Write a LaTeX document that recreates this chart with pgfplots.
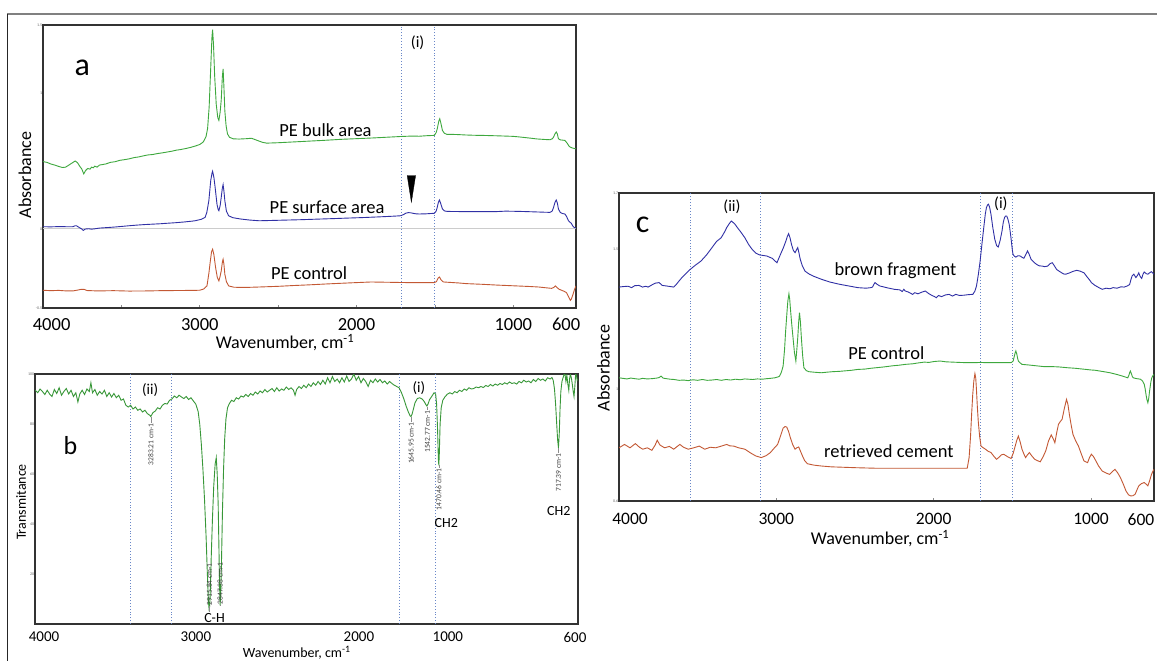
\documentclass[border=0pt]{standalone}
\usepackage{fontspec}
\setmainfont{Carlito}
\usepackage{pgfplots}
\pgfplotsset{compat=1.18}
\definecolor{cgreen}{RGB}{62,168,62}
\definecolor{cblue}{RGB}{48,48,165}
\definecolor{corange}{RGB}{195,88,52}
\definecolor{cdot}{RGB}{105,135,200}
\newcommand\fs[1]{\fontsize{#1bp}{#1bp}\selectfont}
\pgfplotsset{panel/.style={scale only axis, x dir=reverse,
  axis line style={line width=1.5bp, black!80},
  xtick pos=bottom, ytick pos=left, major tick length=0pt, minor tick length=3bp,
  tick style={black!45, line width=0.6bp},
  /pgf/number format/assume math mode=true,
  clip mode=individual,
  yticklabel style={font=\fs{4}, text=black!60, inner sep=0.6bp},
  every axis plot/.append style={line width=0.9bp},
}}
\pgfplotsset{vdot/.style={cdot, dotted, line width=0.7bp}}
\begin{document}
\begin{tikzpicture}
\useasboundingbox (0,0) rectangle (1157bp,-661bp);
\fill[white] (0,0) rectangle (1157bp,-661bp);
\draw[black!50, line width=2bp] (7bp,-14bp) -- (1157bp,-14bp);
\draw[black!85, line width=1bp] (7bp,-14bp) -- (7bp,-661bp);

% ---------------- Panel a ----------------
\begin{axis}[panel, at={(43bp,-25bp)}, anchor=north west, width=533bp, height=283bp,
  xmin=600, xmax=4000, ymin=-0.585, ymax=1.504,
  xtick={3945,3000,2000,1000,663}, xticklabels={4000,3000,2000,1000,600},
  minor xtick={3500,3000,2500,2000,1500,1000},
  xticklabel style={font=\fs{18.5}, inner sep=0pt, yshift=-10bp},
  ytick={1.5,1,0,-0.585}, yticklabels={1.5,1,0,-0.5},
  xlabel={Wavenumber, cm\textsuperscript{-1}},
  xlabel style={font=\fs{18}, at={(axis description cs:0.454,0)}, anchor=north, inner sep=0pt, yshift=-26bp},
  ylabel={Absorbance},
  ylabel style={font=\fs{18}, at={(axis description cs:0,0.47)}, anchor=center, yshift=18bp},
]
\addplot[black!20, line width=0.6bp] coordinates {(600,0) (4000,0)};
\addplot[vdot] coordinates {(1713,-0.585) (1713,1.504)};
\addplot[vdot] coordinates {(1503,-0.585) (1503,1.504)};
\addplot[cgreen] coordinates {
(4000,0.496) (3975,0.49) (3950,0.478) (3925,0.47) (3900,0.46) (3875,0.452) (3855,0.455) (3835,0.47) (3815,0.485) (3795,0.500) (3780,0.488) (3765,0.46) (3752,0.44) (3740,0.405) (3728,0.43) (3715,0.445) (3700,0.44) (3690,0.455) (3680,0.45) (3670,0.462) (3655,0.455) (3640,0.47) (3620,0.474) (3600,0.478) (3570,0.49) (3540,0.495) (3510,0.505) (3480,0.51) (3450,0.516) (3420,0.525) (3390,0.53) (3360,0.538) (3330,0.545) (3300,0.548) (3270,0.555) (3240,0.56) (3215,0.565) (3180,0.572) (3150,0.58) (3120,0.585) (3090,0.592) (3060,0.6) (3030,0.61) (3000,0.622) (2978,0.64) (2960,0.68) (2950,0.74) (2940,0.9) (2930,1.19) (2922,1.42) (2918,1.47) (2912,1.35) (2905,1.13) (2895,0.92) (2885,0.82) (2878,0.80) (2870,0.86) (2863,0.95) (2856,1.12) (2851,1.18) (2846,1.05) (2840,0.87) (2832,0.76) (2823,0.70) (2810,0.675) (2787,0.664) (2750,0.662) (2700,0.665) (2670,0.668) (2640,0.655) (2600,0.638) (2573,0.632) (2500,0.635) (2400,0.641) (2300,0.647) (2200,0.653) (2100,0.660) (2000,0.665) (1900,0.670) (1800,0.676) (1718,0.681) (1650,0.684) (1600,0.683) (1550,0.687) (1504,0.689) (1492,0.71) (1485,0.738) (1475,0.795) (1469,0.812) (1462,0.78) (1452,0.726) (1440,0.705) (1422,0.696) (1400,0.697) (1350,0.695) (1300,0.692) (1250,0.690) (1194,0.689) (1100,0.686) (1000,0.682) (956,0.677) (900,0.670) (850,0.663) (800,0.659) (766,0.657) (750,0.665) (743,0.677) (735,0.698) (726,0.714) (719,0.70) (712,0.664) (700,0.656) (685,0.654) (671,0.652) (655,0.63) (645,0.61) (636,0.602) (620,0.595) (600,0.590)};
\addplot[cblue] coordinates {
(4000,0.015) (3950,0.014) (3900,0.016) (3850,0.015) (3810,0.015) (3795,0.022) (3786,0.022) (3770,0.01) (3755,0.0) (3743,-0.012) (3730,-0.002) (3710,0.0) (3690,-0.003) (3667,0.0) (3640,0.005) (3600,0.008) (3550,0.012) (3500,0.017) (3453,0.022) (3400,0.027) (3350,0.031) (3300,0.034) (3250,0.037) (3215,0.04) (3150,0.045) (3100,0.05) (3050,0.056) (3025,0.06) (2990,0.07) (2966,0.084) (2955,0.12) (2942,0.207) (2930,0.356) (2922,0.41) (2918,0.425) (2910,0.38) (2902,0.306) (2890,0.18) (2882,0.14) (2878,0.133) (2870,0.17) (2863,0.232) (2856,0.30) (2851,0.326) (2846,0.28) (2840,0.207) (2830,0.13) (2816,0.096) (2790,0.082) (2740,0.072) (2680,0.064) (2621,0.059) (2550,0.061) (2450,0.064) (2350,0.067) (2250,0.071) (2146,0.075) (2050,0.079) (1950,0.083) (1850,0.088) (1760,0.093) (1718,0.096) (1700,0.105) (1685,0.115) (1670,0.119) (1655,0.118) (1640,0.114) (1620,0.11) (1600,0.109) (1560,0.11) (1520,0.113) (1504,0.114) (1492,0.13) (1485,0.158) (1478,0.195) (1471,0.212) (1464,0.19) (1452,0.146) (1440,0.132) (1422,0.128) (1350,0.127) (1300,0.126) (1250,0.126) (1194,0.126) (1100,0.127) (1050,0.13) (1000,0.129) (956,0.128) (900,0.126) (850,0.124) (800,0.122) (766,0.121) (752,0.13) (743,0.158) (734,0.195) (726,0.212) (719,0.19) (712,0.146) (700,0.12) (685,0.112) (671,0.109) (660,0.09) (648,0.059) (640,0.05) (630,0.04) (620,0.02) (612,0.01) (600,0.005)};
\addplot[corange] coordinates {
(4000,-0.454) (3950,-0.457) (3900,-0.455) (3850,-0.459) (3810,-0.459) (3775,-0.452) (3760,-0.448) (3738,-0.447) (3720,-0.456) (3650,-0.459) (3550,-0.457) (3450,-0.46) (3334,-0.459) (3250,-0.457) (3150,-0.456) (3050,-0.455) (3001,-0.454) (2975,-0.445) (2954,-0.422) (2942,-0.33) (2935,-0.262) (2925,-0.17) (2918,-0.151) (2910,-0.19) (2899,-0.286) (2888,-0.36) (2878,-0.385) (2870,-0.35) (2863,-0.311) (2855,-0.24) (2851,-0.225) (2846,-0.26) (2840,-0.336) (2830,-0.39) (2816,-0.422) (2780,-0.432) (2700,-0.433) (2621,-0.430) (2500,-0.425) (2400,-0.419) (2300,-0.414) (2200,-0.408) (2146,-0.405) (2050,-0.400) (1950,-0.395) (1908,-0.393) (1800,-0.395) (1700,-0.397) (1600,-0.398) (1504,-0.398) (1490,-0.39) (1480,-0.365) (1471,-0.356) (1462,-0.375) (1450,-0.39) (1444,-0.393) (1350,-0.400) (1300,-0.405) (1200,-0.410) (1100,-0.416) (1000,-0.421) (900,-0.426) (838,-0.430) (790,-0.436) (755,-0.44) (740,-0.432) (731,-0.422) (720,-0.435) (707,-0.447) (690,-0.455) (675,-0.462) (660,-0.472) (648,-0.50) (640,-0.52) (636,-0.528) (630,-0.52) (619,-0.484) (610,-0.45) (600,-0.422)};
\addplot[fill=black, draw=black, line width=0.3bp] coordinates {(1677,0.393) (1623,0.393) (1650,0.195)} -- cycle;
\node[font=\fs{32}] at (axis cs:3750,1.188) {a};
\node[font=\fs{16}] at (axis cs:1610,1.375) {(i)};
\node[font=\fs{18.5}, anchor=base] at (axis cs:2198,0.681) {PE bulk area};
\node[font=\fs{18.5}, anchor=base] at (axis cs:2188,0.109) {PE surface area};
\node[font=\fs{18.5}, anchor=base] at (axis cs:2302,-0.373) {PE control};
\end{axis}

% ---------------- Panel b ----------------
\begin{axis}[panel, at={(35bp,-374bp)}, anchor=north west, width=543bp, height=250bp,
  xmin=594, xmax=4012, ymin=0, ymax=100,
  xtick={3955,2999,1973,1413,613}, xticklabels={4000,3000,2000,1000,600},
  xticklabel style={font=\fs{15}, inner sep=0pt, yshift=-8bp},
  ytick={100,80,60,40,20},
  xlabel={Wavenumber, cm\textsuperscript{-1}},
  xlabel style={font=\fs{14}, at={(axis description cs:0.482,0)}, anchor=north, inner sep=0pt, yshift=-22bp},
  ylabel={Transmitance},
  ylabel style={font=\fs{14}, at={(axis description cs:0,0.488)}, anchor=center, yshift=14bp},
]
\addplot[vdot] coordinates {(3411,0) (3411,100)};
\addplot[vdot] coordinates {(3155,0) (3155,100)};
\addplot[vdot] coordinates {(1716,0) (1716,100)};
\addplot[vdot] coordinates {(1490,0) (1490,100)};
\addplot[cgreen!90!black] coordinates {
(4010,93.5) (3995,92.5) (3980,94.0) (3965,93.0) (3950,91.8) (3935,93.5) (3920,92.0) (3905,91.0) (3890,93.8) (3875,92.2) (3860,94.5) (3845,91.5) (3830,93.0) (3815,94.2) (3800,92.0) (3785,93.5) (3770,91.0) (3755,92.5) (3742,88.8) (3730,92.0) (3715,93.5) (3700,91.8) (3685,94.0) (3670,93.0) (3660,96.5) (3650,92.5) (3635,93.8) (3620,91.5) (3605,93.0) (3590,92.0) (3575,93.5) (3560,91.0) (3545,92.5) (3530,90.8) (3515,92.2) (3500,90.5) (3485,91.5) (3470,89.5) (3455,90.0) (3440,87.5) (3425,86.8) (3410,87.5) (3395,86.0) (3380,86.8) (3365,85.5) (3350,86.0) (3335,84.8) (3320,85.5) (3305,84.2) (3290,83.5) (3283,83.0) (3270,84.5) (3255,85.2) (3240,86.5) (3225,86.0) (3210,87.5) (3195,88.2) (3180,88.0) (3165,89.5) (3150,90.0) (3135,91.2) (3120,90.5) (3105,91.5) (3090,90.8) (3075,90.2) (3060,91.0) (3045,89.8) (3030,90.5) (3015,89.2) (3000,88.0) (2985,85.0) (2975,80.0) (2965,72.0) (2955,62.0) (2945,50.0) (2935,35.0) (2927,20.0) (2920,9.0) (2915,5.0) (2910,10.0) (2903,26.0) (2895,42.0) (2887,55.0) (2878,64.0) (2871,66.5) (2865,60.0) (2859,48.0) (2854,30.0) (2850,15.0) (2847,7.5) (2843,12.0) (2838,25.0) (2832,45.0) (2825,62.0) (2818,74.0) (2810,82.0) (2800,86.5) (2790,88.0) (2775,89.5) (2760,89.0) (2745,90.5) (2730,90.0) (2715,91.2) (2700,90.8) (2685,91.8) (2670,91.0) (2655,92.2) (2640,91.5) (2625,92.8) (2610,92.0) (2595,93.2) (2580,92.5) (2565,93.8) (2550,92.8) (2535,93.5) (2520,94.2) (2505,93.0) (2490,94.5) (2475,93.2) (2460,94.0) (2445,93.5) (2430,94.8) (2415,93.8) (2400,94.5) (2385,93.5) (2375,91.5) (2365,93.8) (2350,95.0) (2335,94.2) (2320,95.5) (2305,94.5) (2290,96.0) (2275,95.0) (2260,96.5) (2245,95.5) (2230,97.0) (2215,95.8) (2200,97.5) (2185,96.0) (2170,98.5) (2155,96.5) (2140,99.0) (2125,97.0) (2110,98.0) (2095,96.5) (2080,98.5) (2065,96.8) (2050,99.2) (2035,97.0) (2020,98.0) (2005,100.0) (1990,97.5) (1975,99.0) (1960,96.5) (1945,98.2) (1930,97.0) (1915,95.0) (1900,97.5) (1885,96.5) (1870,98.0) (1855,96.8) (1840,97.8) (1825,96.5) (1810,97.2) (1795,96.0) (1780,97.0) (1765,96.2) (1750,95.5) (1735,95.0) (1720,94.5) (1705,92.5) (1690,90.0) (1675,87.0) (1660,84.5) (1650,83.2) (1645,83.0) (1638,84.0) (1630,86.0) (1620,88.5) (1605,90.2) (1590,90.5) (1575,90.0) (1562,89.0) (1552,87.8) (1545,87.2) (1538,88.0) (1528,89.8) (1515,91.0) (1500,92.5) (1490,92.0) (1484,88.0) (1478,78.0) (1473,66.0) (1470,63.5) (1467,68.0) (1462,80.0) (1455,86.5) (1445,89.5) (1430,91.0) (1415,92.0) (1400,92.5) (1385,92.0) (1370,93.0) (1355,92.5) (1340,93.5) (1325,93.0) (1310,94.0) (1295,93.5) (1280,94.5) (1265,94.0) (1250,94.2) (1235,94.8) (1220,94.5) (1205,95.0) (1190,94.6) (1175,95.4) (1160,95.0) (1145,95.8) (1130,95.2) (1115,96.0) (1100,95.5) (1085,96.2) (1070,95.8) (1055,96.5) (1040,96.0) (1025,96.8) (1010,96.2) (995,96.5) (980,96.0) (965,97.0) (950,96.5) (935,97.5) (920,96.8) (905,97.2) (890,96.5) (875,97.8) (860,97.0) (845,98.2) (830,97.5) (815,98.0) (800,97.2) (785,98.5) (770,98.0) (758,98.6) (750,97.5) (742,94.0) (735,88.0) (728,80.0) (722,73.5) (717,70.5) (712,76.0) (707,86.0) (702,93.0) (695,97.0) (688,98.5) (682,99.8) (676,100.0) (670,97.0) (664,99.5) (658,96.0) (652,93.5) (647,98.0) (642,100.0) (636,98.5) (630,96.0) (624,93.0) (619,91.0) (614,95.0) (609,99.8) (604,99.5) (599,97.5) (595,98.0)};
\draw[black!45, line width=0.5bp] (axis cs:3283,83) -- (axis cs:3283,80.5);
\draw[black!45, line width=0.5bp] (axis cs:2915,4.8) -- (axis cs:2915,7.3);
\draw[black!45, line width=0.5bp] (axis cs:2847,7.3) -- (axis cs:2847,7.6);
\draw[black!45, line width=0.5bp] (axis cs:1645,83) -- (axis cs:1645,81);
\draw[black!45, line width=0.5bp] (axis cs:1542,87) -- (axis cs:1542,85.5);
\draw[black!45, line width=0.5bp] (axis cs:1470,63.5) -- (axis cs:1470,62.5);
\draw[black!45, line width=0.5bp] (axis cs:717,70.5) -- (axis cs:717,68.5);
\node[font=\fs{7.5}, text=black!75, rotate=90, anchor=east, inner sep=0.5bp] at (axis cs:3283,80.5) {3283.21 cm-1};
\node[font=\fs{7.5}, text=black!75, rotate=90, anchor=west, inner sep=0.5bp] at (axis cs:2915,7.3) {2915.84 cm-1};
\node[font=\fs{7.5}, text=black!75, rotate=90, anchor=west, inner sep=0.5bp] at (axis cs:2847,7.6) {2847.38 cm-1};
\node[font=\fs{7.5}, text=black!75, rotate=90, anchor=east, inner sep=0.5bp] at (axis cs:1645,81) {1645.95 cm-1};
\node[font=\fs{7.5}, text=black!75, rotate=90, anchor=east, inner sep=0.5bp] at (axis cs:1542,85.5) {1542.77 cm-1};
\node[font=\fs{7.5}, text=black!75, rotate=90, anchor=east, inner sep=0.5bp] at (axis cs:1470,62.5) {1470.46 cm-1};
\node[font=\fs{7.5}, text=black!75, rotate=90, anchor=east, inner sep=0.5bp] at (axis cs:717,68.5) {717.39 cm-1};
\node[font=\fs{26}] at (axis cs:3788,71.5) {b};
\node[font=\fs{15}] at (axis cs:3287,93.7) {(ii)};
\node[font=\fs{15}] at (axis cs:1595,94.4) {(i)};
\node[font=\fs{14}] at (axis cs:2882,2.3) {C-H};
\node[font=\fs{14}] at (axis cs:1423,40.3) {CH2};
\node[font=\fs{14}] at (axis cs:715,45.2) {CH2};
\end{axis}

% ---------------- Panel c ----------------
\begin{axis}[panel, at={(619bp,-193bp)}, anchor=north west, width=535bp, height=308bp,
  xmin=600, xmax=4000, ymin=0.6, ymax=1.7,
  xtick={3930,3000,2000,1000,683}, xticklabels={4000,3000,2000,1000,600},
  minor xtick={3000,2000,1000},
  xticklabel style={font=\fs{17.5}, inner sep=0pt, yshift=-12bp},
  ytick={1.7,1.5,1,0.6},
  xlabel={Wavenumber, cm\textsuperscript{-1}},
  xlabel style={font=\fs{18}, at={(axis description cs:0.488,0)}, anchor=north, inner sep=0pt, yshift=-29bp},
  ylabel={Absorbance},
  ylabel style={font=\fs{18}, at={(axis description cs:0,0.432)}, anchor=center, yshift=15.5bp},
]
\addplot[vdot] coordinates {(3548,0.6) (3548,1.7)};
\addplot[vdot] coordinates {(3103,0.6) (3103,1.7)};
\addplot[vdot] coordinates {(1701,0.6) (1701,1.7)};
\addplot[vdot] coordinates {(1502,0.6) (1502,1.7)};
\addplot[cblue] coordinates {
(4000,1.364) (3970,1.366) (3942,1.367) (3920,1.362) (3900,1.369) (3873,1.370) (3850,1.364) (3830,1.367) (3815,1.364) (3790,1.372) (3770,1.378) (3745,1.380) (3725,1.370) (3699,1.368) (3675,1.366) (3652,1.364) (3635,1.374) (3618,1.386) (3600,1.398) (3575,1.412) (3548,1.427) (3515,1.442) (3479,1.457) (3445,1.478) (3409,1.505) (3380,1.527) (3351,1.540) (3330,1.560) (3316,1.576) (3300,1.590) (3286,1.600) (3265,1.590) (3247,1.576) (3225,1.560) (3200,1.540) (3175,1.515) (3154,1.499) (3130,1.485) (3108,1.479) (3085,1.477) (3061,1.475) (3040,1.470) (3027,1.467) (3010,1.458) (2996,1.451) (2982,1.470) (2969,1.487) (2955,1.505) (2939,1.529) (2930,1.545) (2922,1.555) (2913,1.540) (2904,1.517) (2892,1.495) (2881,1.487) (2872,1.497) (2864,1.505) (2856,1.485) (2848,1.463) (2835,1.440) (2818,1.421) (2790,1.410) (2760,1.402) (2714,1.392) (2660,1.382) (2598,1.374) (2540,1.368) (2482,1.362) (2430,1.360) (2400,1.362) (2389,1.364) (2380,1.374) (2373,1.380) (2360,1.374) (2343,1.368) (2300,1.362) (2250,1.356) (2215,1.354) (2200,1.348) (2190,1.356) (2181,1.350) (2160,1.346) (2134,1.338) (2120,1.344) (2100,1.340) (2075,1.346) (2053,1.350) (2030,1.340) (2010,1.334) (1995,1.330) (1983,1.326) (1970,1.334) (1950,1.330) (1925,1.336) (1902,1.338) (1880,1.332) (1860,1.338) (1835,1.334) (1809,1.335) (1780,1.337) (1751,1.338) (1738,1.350) (1728,1.368) (1716,1.410) (1705,1.457) (1693,1.520) (1682,1.576) (1672,1.625) (1665,1.648) (1658,1.657) (1652,1.660) (1645,1.650) (1636,1.624) (1624,1.575) (1612,1.535) (1600,1.512) (1590,1.507) (1578,1.530) (1566,1.564) (1558,1.595) (1550,1.612) (1543,1.618) (1536,1.618) (1528,1.606) (1520,1.588) (1510,1.545) (1500,1.495) (1496,1.481) (1487,1.474) (1478,1.471) (1465,1.476) (1450,1.475) (1438,1.470) (1427,1.467) (1415,1.480) (1404,1.493) (1394,1.482) (1381,1.463) (1362,1.452) (1346,1.445) (1330,1.440) (1311,1.439) (1295,1.437) (1276,1.439) (1260,1.448) (1246,1.451) (1233,1.440) (1219,1.427) (1195,1.418) (1175,1.411) (1161,1.410) (1140,1.414) (1115,1.420) (1091,1.424) (1070,1.421) (1045,1.415) (1025,1.400) (1010,1.390) (998,1.380) (975,1.370) (950,1.362) (929,1.356) (905,1.360) (880,1.358) (860,1.362) (835,1.360) (810,1.365) (790,1.364) (770,1.368) (755,1.373) (747,1.390) (739,1.404) (728,1.410) (715,1.398) (706,1.405) (697,1.415) (688,1.402) (678,1.395) (670,1.410) (662,1.418) (650,1.412) (639,1.410) (628,1.415) (616,1.419) (608,1.414) (600,1.410)};
\addplot[cgreen] coordinates {
(4000,1.040) (3975,1.038) (3950,1.036) (3925,1.039) (3900,1.037) (3873,1.035) (3850,1.038) (3820,1.036) (3790,1.037) (3760,1.039) (3745,1.041) (3733,1.046) (3720,1.039) (3700,1.037) (3675,1.035) (3650,1.034) (3618,1.031) (3590,1.032) (3560,1.030) (3530,1.033) (3500,1.031) (3470,1.034) (3440,1.031) (3409,1.032) (3380,1.034) (3350,1.031) (3320,1.034) (3290,1.032) (3260,1.035) (3230,1.033) (3200,1.036) (3177,1.035) (3150,1.034) (3120,1.036) (3090,1.035) (3060,1.037) (3038,1.038) (3010,1.040) (2990,1.043) (2980,1.046) (2968,1.060) (2957,1.082) (2948,1.14) (2941,1.207) (2933,1.27) (2927,1.314) (2920,1.340) (2915,1.32) (2911,1.290) (2902,1.23) (2894,1.183) (2885,1.13) (2876,1.100) (2870,1.14) (2864,1.183) (2858,1.24) (2853,1.273) (2847,1.24) (2841,1.183) (2833,1.12) (2825,1.076) (2810,1.066) (2795,1.062) (2760,1.060) (2714,1.058) (2680,1.060) (2640,1.062) (2600,1.063) (2560,1.065) (2520,1.067) (2482,1.070) (2440,1.071) (2400,1.074) (2366,1.076) (2330,1.078) (2300,1.080) (2260,1.083) (2220,1.085) (2180,1.088) (2134,1.090) (2100,1.093) (2060,1.096) (2030,1.095) (2000,1.098) (1960,1.100) (1920,1.097) (1880,1.096) (1840,1.095) (1787,1.094) (1740,1.094) (1700,1.095) (1671,1.094) (1620,1.094) (1560,1.094) (1508,1.094) (1495,1.100) (1490,1.112) (1483,1.128) (1478,1.136) (1472,1.125) (1466,1.108) (1462,1.100) (1450,1.093) (1439,1.088) (1400,1.086) (1350,1.083) (1300,1.080) (1250,1.080) (1207,1.079) (1150,1.076) (1100,1.074) (1050,1.071) (1000,1.068) (975,1.067) (920,1.062) (880,1.058) (836,1.052) (800,1.046) (767,1.040) (760,1.048) (755,1.058) (750,1.064) (744,1.055) (738,1.045) (732,1.040) (710,1.037) (686,1.035) (672,1.028) (662,1.017) (656,1.000) (651,0.981) (645,0.962) (639,0.951) (634,0.965) (628,0.993) (620,1.025) (614,1.040) (609,1.046) (600,1.052)};
\addplot[corange] coordinates {
(4000,0.790) (3965,0.802) (3930,0.790) (3896,0.805) (3870,0.792) (3849,0.785) (3820,0.790) (3791,0.781) (3770,0.800) (3757,0.817) (3740,0.800) (3710,0.790) (3680,0.795) (3652,0.785) (3630,0.795) (3613,0.802) (3590,0.792) (3560,0.785) (3525,0.790) (3490,0.796) (3455,0.785) (3420,0.792) (3386,0.790) (3350,0.796) (3316,0.802) (3295,0.797) (3270,0.796) (3240,0.790) (3200,0.785) (3165,0.772) (3131,0.761) (3096,0.755) (3065,0.762) (3038,0.773) (3015,0.788) (2992,0.802) (2975,0.830) (2957,0.860) (2945,0.866) (2934,0.864) (2922,0.848) (2911,0.826) (2895,0.800) (2881,0.785) (2870,0.790) (2858,0.793) (2846,0.777) (2834,0.761) (2820,0.744) (2802,0.733) (2760,0.728) (2714,0.725) (2650,0.722) (2598,0.721) (2500,0.719) (2366,0.717) (2200,0.717) (2018,0.717) (1900,0.717) (1787,0.717) (1775,0.755) (1766,0.830) (1759,0.910) (1752,0.980) (1745,1.029) (1738,1.055) (1733,1.040) (1729,1.005) (1723,0.940) (1717,0.886) (1708,0.830) (1699,0.796) (1685,0.790) (1671,0.785) (1655,0.778) (1636,0.773) (1618,0.760) (1601,0.749) (1585,0.756) (1570,0.765) (1555,0.767) (1530,0.758) (1508,0.752) (1495,0.770) (1485,0.790) (1473,0.815) (1462,0.832) (1450,0.810) (1439,0.785) (1427,0.768) (1416,0.755) (1404,0.765) (1392,0.773) (1375,0.760) (1358,0.749) (1340,0.744) (1323,0.740) (1305,0.758) (1288,0.779) (1270,0.815) (1253,0.836) (1240,0.822) (1230,0.808) (1218,0.845) (1207,0.874) (1195,0.884) (1184,0.892) (1170,0.930) (1156,0.963) (1147,0.945) (1138,0.910) (1126,0.870) (1115,0.838) (1098,0.815) (1080,0.796) (1062,0.768) (1045,0.743) (1022,0.737) (1010,0.755) (998,0.767) (986,0.760) (975,0.749) (952,0.725) (929,0.707) (905,0.700) (882,0.695) (865,0.705) (848,0.713) (830,0.700) (813,0.683) (795,0.660) (778,0.636) (762,0.622) (748,0.618) (734,0.619) (720,0.624) (708,0.640) (697,0.654) (680,0.662) (662,0.666) (650,0.660) (639,0.654) (628,0.672) (616,0.695) (608,0.705) (600,0.713)};
\node[font=\fs{32}] at (axis cs:3849,1.586) {c};
\node[font=\fs{16}] at (axis cs:3282,1.650) {(ii)};
\node[font=\fs{16}] at (axis cs:1573,1.662) {(i)};
\node[font=\fs{18.5}, anchor=base] at (axis cs:2243,1.404) {brown fragment};
\node[font=\fs{18.5}, anchor=base] at (axis cs:2301,1.104) {PE control};
\node[font=\fs{18.5}, anchor=base] at (axis cs:2285,0.757) {retrieved cement};
\end{axis}
\end{tikzpicture}
\end{document}
